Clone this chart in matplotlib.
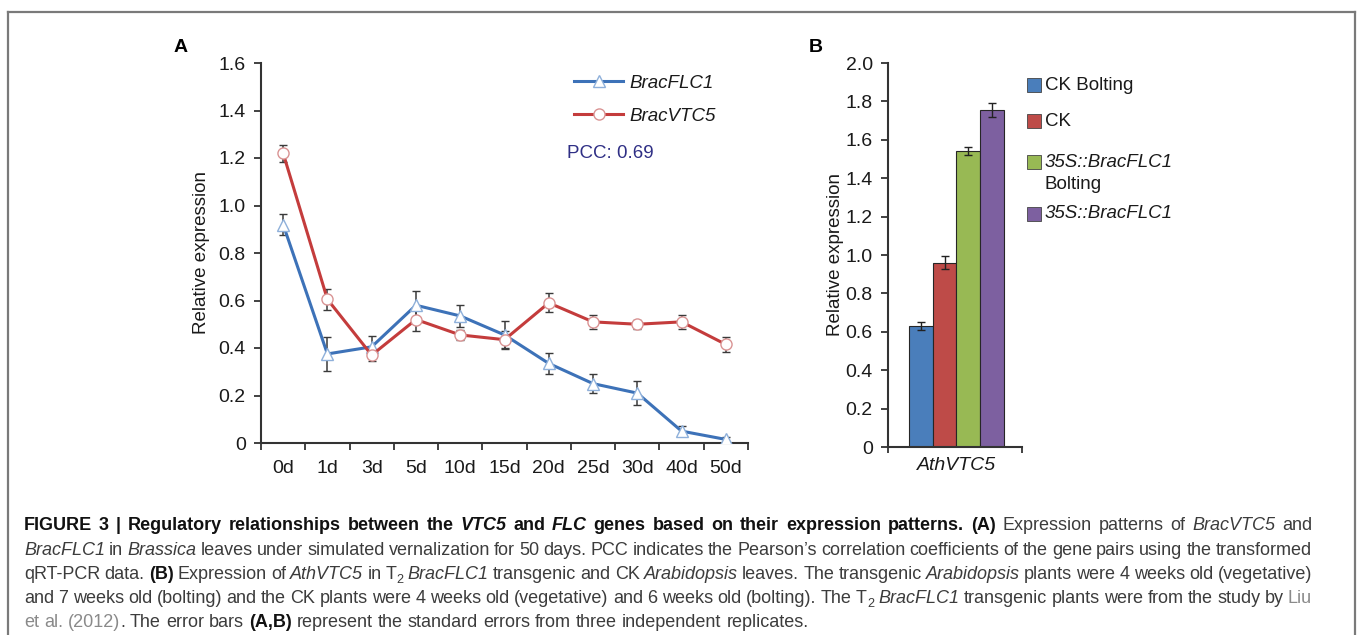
import matplotlib
matplotlib.use("Agg")
import matplotlib.pyplot as plt
from matplotlib.lines import Line2D
from matplotlib.patches import Rectangle

plt.rcParams['font.family'] = ['Liberation Sans', 'DejaVu Sans']

# ---------------- data ----------------
days = ['0d', '1d', '3d', '5d', '10d', '15d', '20d', '25d', '30d', '40d', '50d']
flc1 = [0.92, 0.375, 0.405, 0.58, 0.535, 0.455, 0.335, 0.25, 0.21, 0.05, 0.015]
flc1_err = [0.045, 0.07, 0.045, 0.06, 0.045, 0.06, 0.045, 0.04, 0.05, 0.02, 0.01]
vtc5 = [1.22, 0.605, 0.37, 0.52, 0.455, 0.435, 0.59, 0.51, 0.50, 0.51, 0.415]
vtc5_err = [0.035, 0.045, 0.025, 0.05, 0.02, 0.035, 0.04, 0.03, 0.02, 0.03, 0.03]
yticks_a = [0, 0.2, 0.4, 0.6, 0.8, 1.0, 1.2, 1.4, 1.6]
yticklabels_a = ['0', '0.2', '0.4', '0.6', '0.8', '1.0', '1.2', '1.4', '1.6']

groups_b = ['CK Bolting', 'CK', '35S::BracFLC1\nBolting', '35S::BracFLC1']
vals_b = [0.63, 0.96, 1.54, 1.755]
errs_b = [0.02, 0.035, 0.02, 0.035]
colors_b = ['#4a7ebb', '#be4b48', '#98b954', '#7d60a0']
yticks_b = [0, 0.2, 0.4, 0.6, 0.8, 1.0, 1.2, 1.4, 1.6, 1.8, 2.0]
yticklabels_b = ['0', '0.2', '0.4', '0.6', '0.8', '1.0', '1.2', '1.4', '1.6', '1.8', '2.0']

W, H = 1357, 635
fig = plt.figure(figsize=(W / 100, H / 100), dpi=100)


def fx(px):
    return px / W


def fy(py):
    return 1 - py / H


# outer border
for (x0, y0, x1, y1) in [(8, 12, 1355, 12), (8, 12, 8, 640), (1355, 12, 1355, 640)]:
    fig.add_artist(Line2D([fx(x0), fx(x1)], [fy(y0), fy(y1)], color='#7a7a7a', lw=1.6,
                          transform=fig.transFigure))

axis_col = '#333333'
txt_col = '#1a1a1a'

# ---------------- panel A ----------------
axA = fig.add_axes([fx(261), fy(443), (748 - 261) / W, (443 - 63) / H])
xs = list(range(len(days)))
blue = '#3d72b8'
red = '#c43c3c'
axA.errorbar(xs, flc1, yerr=flc1_err, color=blue, lw=2.2, marker='^', ms=8,
             mfc='white', mec='#8fb0da', mew=1.0, ecolor='#3a3a3a', elinewidth=1.1,
             capsize=3, capthick=1.1, zorder=3)
axA.errorbar(xs, vtc5, yerr=vtc5_err, color=red, lw=2.2, marker='o', ms=8,
             mfc='white', mec='#d99393', mew=1.0, ecolor='#3a3a3a', elinewidth=1.1,
             capsize=3, capthick=1.1, zorder=3)
axA.set_xlim(-0.5, len(days) - 0.5)
axA.set_ylim(0, 1.6)
axA.set_yticks(yticks_a)
axA.set_yticklabels(yticklabels_a)
axA.set_xticks(xs)
axA.set_xticklabels(days)
axA.set_xticks([i - 0.5 for i in range(len(days) + 1)], minor=True)
axA.tick_params(axis='x', which='major', length=0, pad=12, labelsize=14, labelcolor=txt_col)
axA.tick_params(axis='x', which='minor', length=5, width=1.3, color=axis_col, direction='out')
axA.tick_params(axis='y', length=5, width=1.3, color=axis_col, labelsize=14, labelcolor=txt_col, pad=6)
for s in ['top', 'right']:
    axA.spines[s].set_visible(False)
for s in ['left', 'bottom']:
    axA.spines[s].set_color(axis_col)
    axA.spines[s].set_linewidth(1.5)
axA.set_ylabel('Relative expression', fontsize=13.5, color=txt_col)
axA.yaxis.set_label_coords(-0.105, 0.5)

hA = [Line2D([], [], color=blue, lw=2.2, marker='^', ms=8, mfc='white', mec='#8fb0da'),
      Line2D([], [], color=red, lw=2.2, marker='o', ms=8, mfc='white', mec='#d99393')]
legA = axA.legend(hA, ['BracFLC1', 'BracVTC5'], loc='upper left',
                  bbox_to_anchor=(fx(565), fy(65)), bbox_transform=fig.transFigure,
                  frameon=False, handlelength=2.6, handletextpad=0.35, labelspacing=0.85,
                  borderpad=0, prop={'size': 13.5, 'style': 'italic'})
for t in legA.get_texts():
    t.set_color(txt_col)
fig.text(fx(567), fy(153), 'PCC: 0.69', fontsize=13.5, color='#2f2f85', va='center', ha='left')

fig.text(fx(174), fy(48), 'A', fontsize=14, fontweight='bold', va='center', ha='left')
fig.text(fx(809), fy(48), 'B', fontsize=14, fontweight='bold', va='center', ha='left')

# ---------------- panel B ----------------
axB = fig.add_axes([fx(888), fy(447), (1022 - 888) / W, (447 - 63) / H])
xb = list(range(len(vals_b)))
axB.bar(xb, vals_b, width=1.0, color=colors_b, edgecolor='#262626', lw=0.8,
        yerr=errs_b, capsize=3, error_kw=dict(ecolor='#222222', elinewidth=1.0, capthick=1.0))
axB.set_xlim(-1.384, 4.26)
axB.set_ylim(0, 2.0)
axB.set_yticks(yticks_b)
axB.set_yticklabels(yticklabels_b)
axB.set_xticks([1.5])
axB.set_xticklabels(['AthVTC5'], fontstyle='italic')
axB.set_xticks([-1.384, 4.26], minor=True)
axB.tick_params(axis='x', which='major', length=0, pad=7, labelsize=14, labelcolor=txt_col)
axB.tick_params(axis='x', which='minor', length=4, width=1.3, color=axis_col, direction='out')
axB.tick_params(axis='y', length=5, width=1.3, color=axis_col, labelsize=14, labelcolor=txt_col, pad=6)
for s in ['top', 'right']:
    axB.spines[s].set_visible(False)
for s in ['left', 'bottom']:
    axB.spines[s].set_color(axis_col)
    axB.spines[s].set_linewidth(1.5)
axB.set_ylabel('Relative expression', fontsize=13.5, color=txt_col)
axB.yaxis.set_label_coords(-0.33, 0.5)

# legend B (manual)
leg_y = [85, 121, 162, 214]
for c, lab, yy in zip(colors_b, groups_b, leg_y):
    fig.add_artist(Rectangle((fx(1027), fy(yy + 7)), 14 / W, 14 / H, transform=fig.transFigure,
                             facecolor=c, edgecolor='#444444', lw=0.6))
    if '\n' in lab:
        l1, l2 = lab.split('\n')
        fig.text(fx(1045), fy(yy), l1, fontsize=13.5, style='italic', va='center', color=txt_col)
        fig.text(fx(1045), fy(yy + 23), l2, fontsize=13.5, va='center', color=txt_col)
    elif lab.startswith('35S'):
        fig.text(fx(1045), fy(yy), lab, fontsize=13.5, style='italic', va='center', color=txt_col)
    else:
        fig.text(fx(1045), fy(yy), lab, fontsize=13.5, va='center', color=txt_col)

# ---------------- caption ----------------
cap_size = 13.0
reg_col = '#3c3c3c'
styles = {
    'r': dict(color=reg_col),
    'b': dict(color='#111111', fontweight='bold'),
    'bi': dict(color='#111111', fontweight='bold', fontstyle='italic'),
    'i': dict(color=reg_col, fontstyle='italic'),
    'l': dict(color='#8a8a8a'),
    's': dict(color=reg_col),
}
lines = [
    [("FIGURE 3 | Regulatory relationships between the ", 'b'), ("VTC5", 'bi'), (" and ", 'b'),
     ("FLC", 'bi'), (" genes based on their expression patterns. (A)", 'b'),
     (" Expression patterns of ", 'r'), ("BracVTC5", 'i'), (" and", 'r')],
    [("BracFLC1", 'i'), (" in ", 'r'), ("Brassica", 'i'),
     (" leaves under simulated vernalization for 50 days. PCC indicates the Pearson\u2019s correlation coefficients of the gene pairs using the transformed", 'r')],
    [("qRT-PCR data. ", 'r'), ("(B)", 'b'), (" Expression of ", 'r'), ("AthVTC5", 'i'), (" in T", 'r'),
     ("2", 's'), (" ", 'r'), ("BracFLC1", 'i'), (" transgenic and CK ", 'r'), ("Arabidopsis", 'i'),
     (" leaves. The transgenic ", 'r'), ("Arabidopsis", 'i'), (" plants were 4 weeks old (vegetative)", 'r')],
    [("and 7 weeks old (bolting) and the CK plants were 4 weeks old (vegetative) and 6 weeks old (bolting). The T", 'r'),
     ("2", 's'), (" ", 'r'), ("BracFLC1", 'i'), (" transgenic plants were from the study by ", 'r'), ("Liu", 'l')],
    [("et al. (2012)", 'l'), (". The error bars ", 'r'), ("(A,B)", 'b'),
     (" represent the standard errors from three independent replicates.", 'r')],
]
baselines = [530, 555, 579, 603, 627]
justify = [True, True, True, True, False]
x_left, x_right = 24, 1312

renderer = fig.canvas.get_renderer()


def make_piece(x, y, s, st):
    kw = dict(styles[st])
    size = cap_size
    yy = y
    if st == 's':
        size = cap_size * 0.7
        yy = y + 4
    t = fig.text(fx(x), fy(yy), s, fontsize=size, va='baseline', ha='left', **kw)
    return t


# space width
tmp1 = fig.text(0, 0, 'a a', fontsize=cap_size)
tmp2 = fig.text(0, 0, 'aa', fontsize=cap_size)
space_w = tmp1.get_window_extent(renderer).width - tmp2.get_window_extent(renderer).width
tmp1.remove()
tmp2.remove()

for runs, yb, jus in zip(lines, baselines, justify):
    words = [[]]
    for s, st in runs:
        parts = s.split(' ')
        for k, p in enumerate(parts):
            if k > 0:
                words.append([])
            if p:
                words[-1].append((p, st))
    words = [w for w in words if w]
    widths = []
    for w in words:
        tot = 0
        for p, st in w:
            t = make_piece(0, yb, p, st)
            tot += t.get_window_extent(renderer).width
            t.remove()
        widths.append(tot)
    if jus and len(words) > 1:
        gap = (x_right - x_left - sum(widths)) / (len(words) - 1)
    else:
        gap = space_w
    x = x_left
    for w, wd in zip(words, widths):
        xx = x
        for p, st in w:
            t = make_piece(xx, yb, p, st)
            xx += t.get_window_extent(renderer).width
        x += wd + gap

fig.savefig('out.png', dpi=100)
